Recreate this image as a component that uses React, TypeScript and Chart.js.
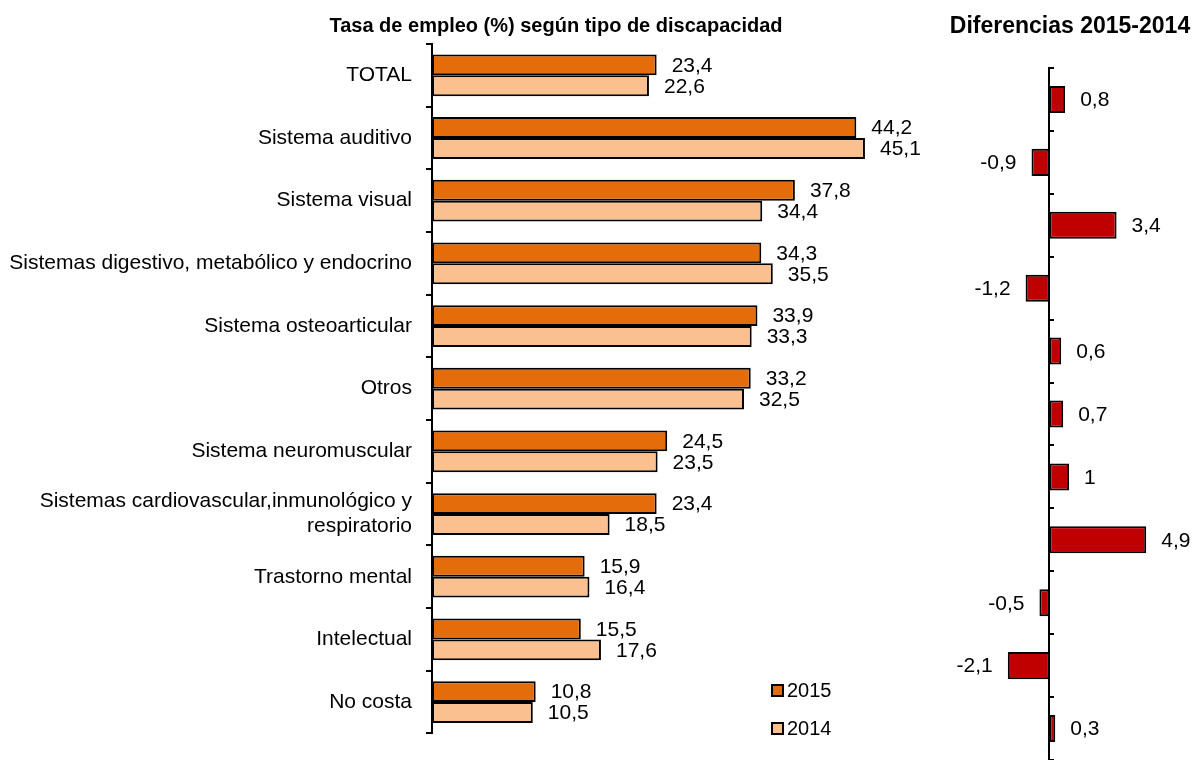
import React, { useEffect, useRef } from "react";
import { Chart, registerables } from "chart.js";

Chart.register(...registerables);

const categories: (string | string[])[] = [
  "TOTAL",
  "Sistema auditivo",
  "Sistema visual",
  "Sistemas digestivo, metabólico y endocrino",
  "Sistema osteoarticular",
  "Otros",
  "Sistema neuromuscular",
  ["Sistemas cardiovascular,inmunológico y", "respiratorio"],
  "Trastorno mental",
  "Intelectual",
  "No costa",
];

const rate2015 = [23.4, 44.2, 37.8, 34.3, 33.9, 33.2, 24.5, 23.4, 15.9, 15.5, 10.8];
const rate2014 = [22.6, 45.1, 34.4, 35.5, 33.3, 32.5, 23.5, 18.5, 16.4, 17.6, 10.5];
const diffs = [0.8, -0.9, 3.4, -1.2, 0.6, 0.7, 1, 4.9, -0.5, -2.1, 0.3];

const seriesNames = ["2015", "2014"];
const titleMain = "Tasa de empleo (%) según tipo de discapacidad";
const titleDiff = "Diferencias 2015-2014";

const C2015 = "#E46C0A";
const C2014 = "#FAC090";
const CDIFF = "#C00000";
const FONT = "'Liberation Sans', Arial, sans-serif";

const fmt = (v: number) => String(v).replace(".", ",");

const valueLabels = (offset: number, dy: number) => ({
  id: "valueLabels",
  afterDatasetsDraw(chart: any) {
    const ctx = chart.ctx;
    ctx.save();
    ctx.font = `21px ${FONT}`;
    ctx.fillStyle = "#000";
    ctx.textBaseline = "middle";
    chart.data.datasets.forEach((ds: any, i: number) => {
      const meta = chart.getDatasetMeta(i);
      meta.data.forEach((el: any, j: number) => {
        const v = ds.data[j] as number;
        const { x, y } = el.getProps(["x", "y"], true);
        if (v >= 0) {
          ctx.textAlign = "left";
          ctx.fillText(fmt(v), x + offset, y + dy);
        } else {
          ctx.textAlign = "right";
          ctx.fillText(fmt(v), x - offset, y + dy);
        }
      });
    });
    ctx.restore();
  },
});

function MainChart() {
  const ref = useRef<HTMLCanvasElement>(null);
  useEffect(() => {
    if (!ref.current) return;
    const chart = new Chart(ref.current, {
      type: "bar",
      data: {
        labels: categories as any,
        datasets: [
          {
            label: seriesNames[0],
            data: rate2015,
            backgroundColor: C2015,
            borderColor: "#000",
            borderWidth: 2,
            borderSkipped: false,
            categoryPercentage: 0.667,
            barPercentage: 1,
          },
          {
            label: seriesNames[1],
            data: rate2014,
            backgroundColor: C2014,
            borderColor: "#000",
            borderWidth: 2,
            borderSkipped: false,
            categoryPercentage: 0.667,
            barPercentage: 1,
          },
        ],
      },
      options: {
        indexAxis: "y",
        responsive: false,
        animation: false,
        layout: { padding: { top: 44, bottom: 23, left: 0, right: 28 } },
        plugins: { legend: { display: false }, tooltip: { enabled: false } },
        scales: {
          x: { type: "linear", min: 0, max: 50, display: false },
          y: {
            type: "category",
            afterFit: (s: any) => {
              s.width = 432;
            },
            grid: {
              display: true,
              drawOnChartArea: false,
              drawTicks: true,
              tickLength: 6,
              offset: true,
              color: "#000",
              lineWidth: 2,
            },
            border: { display: true, color: "#000", width: 2 },
            ticks: {
              color: "#000",
              autoSkip: false,
              padding: 14,
              font: { family: FONT, size: 21 },
            },
          },
        },
      },
      plugins: [valueLabels(15, 1)],
    });
    return () => chart.destroy();
  }, []);
  return (
    <canvas
      ref={ref}
      width={940}
      height={760}
      style={{ position: "absolute", left: 0, top: 0, width: 940, height: 760 }}
    />
  );
}

function DiffChart() {
  const ref = useRef<HTMLCanvasElement>(null);
  useEffect(() => {
    if (!ref.current) return;
    const chart = new Chart(ref.current, {
      type: "bar",
      data: {
        labels: categories as any,
        datasets: [
          {
            label: titleDiff,
            data: diffs,
            backgroundColor: CDIFF,
            borderColor: "#000",
            borderWidth: 2,
            borderSkipped: false,
            categoryPercentage: 0.43,
            barPercentage: 1,
          },
        ],
      },
      options: {
        indexAxis: "y",
        responsive: false,
        animation: false,
        layout: { padding: { top: 68, bottom: 0, left: 50, right: 31 } },
        plugins: { legend: { display: false }, tooltip: { enabled: false } },
        scales: {
          x: { type: "linear", min: -3, max: 6, display: false },
          y: {
            type: "category",
            position: { x: 0 } as any,
            afterFit: (s: any) => {
              s.width = 0;
            },
            grid: {
              display: true,
              drawOnChartArea: false,
              drawTicks: true,
              tickLength: -6,
              offset: true,
              color: "#000",
              lineWidth: 2,
            },
            border: { display: true, color: "#000", width: 2 },
            ticks: { display: false, autoSkip: false },
          },
        },
      },
      plugins: [valueLabels(15, 1)],
    });
    return () => chart.destroy();
  }, []);
  return (
    <canvas
      ref={ref}
      width={259}
      height={760}
      style={{ position: "absolute", left: 940, top: 0, width: 259, height: 760 }}
    />
  );
}

export default function App() {
  const legendItem = (color: string, text: string, top: number) => (
    <div
      style={{
        position: "absolute",
        left: 771,
        top: top,
        height: 24,
        display: "flex",
        alignItems: "center",
        fontFamily: FONT,
        fontSize: 20,
        color: "#000",
      }}
    >
      <span
        style={{
          display: "inline-block",
          width: 9,
          height: 9,
          background: color,
          border: "2px solid #000",
          marginRight: 3,
        }}
      />
      <span>{text}</span>
    </div>
  );
  return (
    <div
      style={{
        position: "absolute",
        left: 0,
        top: 0,
        width: 1199,
        height: 760,
        background: "#fff",
        overflow: "hidden",
      }}
    >
      <MainChart />
      <DiffChart />
      <div
        style={{
          position: "absolute",
          left: 256,
          top: 12,
          width: 600,
          textAlign: "center",
          whiteSpace: "nowrap",
          fontFamily: FONT,
          fontWeight: "bold",
          fontSize: 20,
          lineHeight: "26px",
          color: "#000",
        }}
      >
        {titleMain}
      </div>
      <div
        style={{
          position: "absolute",
          left: 920,
          top: 11,
          width: 300,
          textAlign: "center",
          whiteSpace: "nowrap",
          fontFamily: FONT,
          fontWeight: "bold",
          fontSize: 23,
          lineHeight: "28px",
          color: "#000",
        }}
      >
        {titleDiff}
      </div>
      {legendItem(C2015, seriesNames[0], 678)}
      {legendItem(C2014, seriesNames[1], 716)}
    </div>
  );
}
